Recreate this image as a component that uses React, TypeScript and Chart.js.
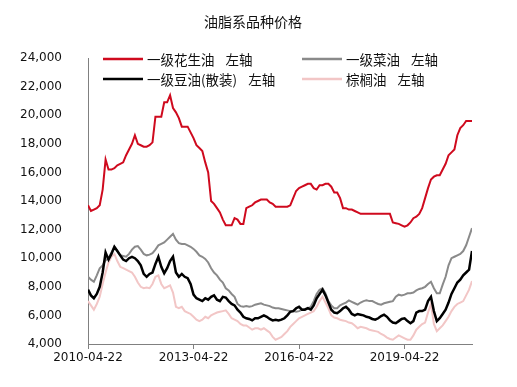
import { useEffect, useRef } from 'react';
import { Chart, registerables } from 'chart.js';
Chart.register(...registerables);

const chartTitle = '油脂系品种价格';
const tickPositions = [0, 36, 72, 108];
const tickLabels = ['2010-04-22', '2013-04-22', '2016-04-22', '2019-04-22'];

const seriesNames = ['一级花生油 左轴', '一级菜油 左轴', '一级豆油(散装) 左轴', '棕榈油 左轴'];

// monthly samples starting 2010-04
const peanutOil = [
  13700, 13300, 13400, 13500, 13700, 14800, 16900, 16200, 16200, 16300, 16500, 16600,
  16700, 17200, 17600, 18000, 18600, 18000, 17900, 17800, 17800, 17900, 18100, 19900,
  19900, 19900, 20900, 20900, 21400, 20500, 20200, 19800, 19200, 19200, 19200, 18800,
  18400, 17900, 17700, 17500, 16700, 16000, 14000, 13800, 13500, 13200, 12700, 12300,
  12300, 12300, 12800, 12700, 12400, 12400, 13500, 13600, 13700, 13900, 14000, 14100,
  14100, 14100, 13900, 13800, 13600, 13600, 13600, 13600, 13600, 13700, 14200, 14700,
  14900, 15000, 15100, 15200, 15200, 14900, 14800, 15100, 15100, 15200, 15200, 15000,
  14600, 14600, 14200, 13500, 13500, 13400, 13400, 13300, 13200, 13100, 13100, 13100,
  13100, 13100, 13100, 13100, 13100, 13100, 13100, 13100, 12500, 12450, 12400, 12300,
  12200, 12300, 12500, 12800, 12900, 13100, 13500, 14200, 14900, 15500, 15700, 15800,
  15800, 16200, 16600, 17200, 17400, 17600, 18600, 19100, 19300, 19600, 19600, 19600,
];
const rapeseedOil = [
  8700, 8500, 8350, 8800, 9300, 9500, 9850, 10000, 10400, 10800, 10500, 10200,
  10150, 10100, 10300, 10600, 10800, 10850, 10600, 10300, 10200, 10250, 10350, 10600,
  10900, 11000, 11100, 11300, 11500, 11700, 11300, 11050, 11000, 11000, 10900, 10800,
  10650, 10450, 10200, 10100, 9950, 9700, 9300, 9000, 8800, 8500, 8300, 7900,
  7750, 7500, 7300, 6800, 6650, 6600, 6650, 6600, 6650, 6750, 6800, 6850,
  6750, 6700, 6650, 6550, 6500, 6500, 6450, 6400, 6350, 6300, 6300, 6250,
  6300, 6400, 6450, 6500, 6600, 7000, 7500, 7800, 7900, 7550, 7000, 6700,
  6500, 6500, 6700, 6800, 6900, 7050, 6950, 6850, 6750, 6900, 7000, 7050,
  7000, 7000, 6900, 6800, 6750, 6850, 6900, 6950, 7000, 7300, 7450, 7400,
  7450, 7550, 7550, 7600, 7750, 7850, 7900, 8000, 8200, 8350, 7900, 7550,
  7550, 8150, 8700, 9500, 10000, 10100, 10200, 10300, 10500, 10900, 11500, 12100,
];
const soybeanOil = [
  7800, 7400, 7200, 7500, 8000, 9000, 10400, 9900, 10300, 10800, 10500, 10200,
  9900, 9800, 10000, 10100, 10000, 9800, 9500, 8900, 8700, 8900, 9000, 9600,
  10100, 9400, 8950, 9300, 9800, 10100, 9000, 8700, 8900, 8700, 8600, 8200,
  7450, 7200, 7100, 7000, 7200, 7100, 7300, 7400, 7100, 7000, 7300, 7250,
  7000, 6800, 6700, 6400, 6200, 5900, 5800, 5750, 5650, 5800, 5800, 5900,
  6000, 5900, 5750, 5650, 5700, 5650, 5700, 5800, 6000, 6250, 6300, 6500,
  6600, 6400, 6400, 6500, 6400, 6700, 7200, 7500, 7800, 7400, 6900, 6400,
  6200, 6150, 6300, 6500, 6600, 6400, 6100, 6000, 6100, 6050, 6000, 5900,
  5850, 5750, 5700, 5800, 5950, 6050, 5900, 5650, 5500, 5450, 5600, 5750,
  5800, 5600, 5450, 5600, 6200, 6300, 6300, 6400, 7000, 7300, 6300, 5600,
  5800, 6100, 6400, 6900, 7500, 7900, 8300, 8500, 8800, 9000, 9200, 10500,
];
const palmOil = [
  7000, 6700, 6400, 6800, 7300, 8200, 9000, 9700, 10100, 10300, 9800, 9400,
  9300, 9200, 9100, 9000, 8700, 8300, 8000, 7900, 7950, 7900, 8200, 8700,
  8800, 8200, 7900, 8000, 8100, 7600, 6600, 6500, 6600, 6300, 6200, 6100,
  5900, 5700, 5600, 5700, 5900, 5800, 6000, 6100, 6200, 6250, 6300, 6350,
  6100, 5800, 5700, 5600, 5400, 5300, 5300, 5150, 5000, 5100, 5100, 5000,
  5100, 4950, 4800, 4500, 4300, 4400, 4500, 4700, 4900, 5200, 5400, 5600,
  5800, 5900, 6000, 6100, 6200, 6300, 6600, 7000, 7300, 6900, 6500, 6000,
  5850, 5800, 5700, 5650, 5600, 5500, 5450, 5300, 5100, 5200, 5150, 5100,
  5000, 4950, 4900, 4850, 4700, 4600, 4450, 4350, 4300, 4450, 4600, 4500,
  4400, 4300, 4300, 4600, 5000, 5200, 5400, 5500, 6200, 6800, 5400, 4900,
  5100, 5300, 5600, 5900, 6300, 6600, 6800, 6900, 7000, 7400, 7800, 8400,
];

const seriesValues = [peanutOil, rapeseedOil, soybeanOil, palmOil];
const seriesColors = ['#CF0A1E', '#8A8A8A', '#000000', '#F2C6C6'];
const seriesWidths = [2, 2, 2.5, 2];
const seriesOrder = [1, 2, 0, 3];

const cjkFont = '"Noto Sans CJK SC", "Noto Sans", sans-serif';
const numFont = '"DejaVu Sans", sans-serif';

const overlayPlugin = {
  id: 'overlay',
  afterDraw(chart: any) {
    const ctx = chart.ctx as CanvasRenderingContext2D;
    ctx.save();
    ctx.fillStyle = '#111';
    ctx.font = `14px ${cjkFont}`;
    ctx.textAlign = 'center';
    ctx.textBaseline = 'middle';
    ctx.fillText(chartTitle, 253, 22);

    const slots = [
      { x: 103, y: 59 },
      { x: 302, y: 59 },
      { x: 103, y: 79 },
      { x: 302, y: 79 },
    ];
    ctx.font = `13.5px ${cjkFont}`;
    ctx.textAlign = 'left';
    chart.data.datasets.forEach((ds: any, i: number) => {
      const s = slots[i];
      ctx.strokeStyle = ds.borderColor;
      ctx.lineWidth = 2.5;
      ctx.beginPath();
      ctx.moveTo(s.x, s.y);
      ctx.lineTo(s.x + 40, s.y);
      ctx.stroke();
      ctx.fillStyle = '#111';
      const parts = String(ds.label).split(' ');
      let tx = s.x + 44;
      parts.forEach((p: string, k: number) => {
        ctx.fillText(p, tx, s.y + 1);
        tx += ctx.measureText(p).width + (k < parts.length - 1 ? 11 : 0);
      });
    });
    ctx.restore();
  },
};

export default function App() {
  const ref = useRef<HTMLCanvasElement>(null);
  useEffect(() => {
    const chart = new Chart(ref.current!, {
      type: 'line',
      data: {
        datasets: seriesNames.map((name, i) => ({
          label: name,
          data: seriesValues[i].map((v, m) => ({ x: m, y: v })),
          borderColor: seriesColors[i],
          backgroundColor: seriesColors[i],
          borderWidth: seriesWidths[i],
          pointRadius: 0,
          tension: 0,
          order: seriesOrder[i],
        })),
      },
      options: {
        responsive: false,
        animation: false,
        devicePixelRatio: 1,
        layout: { padding: { top: 58, right: 45, left: 0, bottom: 0 } },
        plugins: {
          legend: { display: false },
          title: { display: false },
          tooltip: { enabled: false },
        },
        scales: {
          x: {
            type: 'linear',
            min: 0,
            max: 131,
            afterBuildTicks: (s: any) => {
              s.ticks = tickPositions.map((v) => ({ value: v }));
            },
            afterFit: (s: any) => {
              s.height = 43;
            },
            ticks: {
              autoSkip: false,
              maxRotation: 0,
              padding: 2,
              color: '#111',
              font: { family: numFont, size: 12 },
              callback: (_v: any, idx: number) => tickLabels[idx] ?? '',
            },
            grid: { drawOnChartArea: false, tickLength: 5, tickColor: '#808080' },
            border: { color: '#808080', width: 1 },
          },
          y: {
            min: 4000,
            max: 24000,
            afterFit: (s: any) => {
              s.width = 88;
            },
            ticks: {
              stepSize: 2000,
              padding: 18,
              color: '#111',
              font: { family: numFont, size: 12 },
              callback: (v: any) => Number(v).toLocaleString('en-US'),
            },
            grid: { display: false },
            border: { color: '#808080', width: 1 },
          },
        },
      },
      plugins: [overlayPlugin],
    } as any);
    return () => chart.destroy();
  }, []);
  return (
    <div style={{ position: 'fixed', left: 0, top: 0, width: 517, height: 387, background: '#fff' }}>
      <canvas ref={ref} width={517} height={387} style={{ display: 'block' }} />
    </div>
  );
}
